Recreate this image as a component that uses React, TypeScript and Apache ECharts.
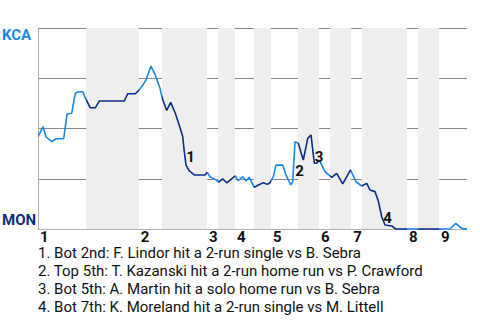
import React, { useEffect, useRef } from "react";
import * as echarts from "echarts";

// Game progress (0-100) and Kansas City win probability (%) at each play
const progress = [0, 1.17, 1.86, 3.19, 4.2, 5.99, 6.76, 7.86, 8.69, 9.49, 10.42, 11.19, 12.19, 13.36, 14.29, 20.12, 20.91, 22.68, 23.61, 24.41, 25.17, 26.34, 27.34, 28.44, 28.97, 29.99, 30.93, 32.0, 33.1, 33.73, 34.1, 34.5, 35.27, 36.43, 38.93, 39.46, 40.09, 41.26, 42.19, 43.05, 43.99, 45.99, 46.69, 47.72, 48.48, 49.25, 50.42, 51.35, 52.52, 53.45, 54.08, 54.85, 55.48, 57.04, 57.81, 58.9, 59.37, 59.91, 60.68, 61.84, 62.87, 63.64, 64.41, 64.97, 65.57, 66.9, 68.46, 69.63, 71.03, 72.84, 74.13, 75.45, 76.62, 77.39, 78.55, 79.32, 80.12, 80.89, 82.45, 83.38, 96.04, 97.37, 98.76, 100];
const kcaWinPct = [46, 50.9, 45.9, 43.4, 44.9, 44.9, 57.2, 57.6, 67.5, 68.3, 68.3, 64.5, 60.3, 60.3, 63.7, 63.7, 67.3, 67.3, 69.2, 71.6, 74.1, 81.1, 76.6, 70, 65, 59, 63, 57.6, 50.5, 46, 38.5, 31.8, 28.9, 26.9, 26.9, 28.2, 26, 24.7, 23.4, 24.9, 23, 26.4, 24, 26, 23.9, 25.7, 20.7, 21.9, 23, 22.2, 23, 26, 31.8, 31.8, 26.9, 21.9, 23.5, 43.4, 42.6, 34.3, 45.1, 46.8, 32.7, 32.7, 34.3, 28.5, 25.7, 27.7, 22.4, 29.4, 23.5, 21.4, 22.7, 19.4, 18.6, 14, 6.1, 2, 1.5, 0, 0, 2.8, 0.3, 0];

// Half-inning boundaries on the progress scale (top 1, bot 1, top 2, ...)
const halfInningBounds = [0, 11.2, 23.5, 28.9, 39.4, 42.0, 45.9, 50.3, 54.3, 60.6, 65.5, 68.1, 73.0, 75.5, 86.0, 88.6, 93.5, 100];
const inningLabels = ["1", "2", "3", "4", "5", "6", "7", "8", "9"];

// Key-event markers
const eventIds = ["1", "2", "3", "4"];
const eventProgress = [35.55, 60.96, 65.5, 81.47];
const eventPct = [35.8, 28.9, 35.8, 5.5];
const eventNotes = [
  "1. Bot 2nd: F. Lindor hit a 2-run single vs B. Sebra",
  "2. Top 5th: T. Kazanski hit a 2-run home run vs P. Crawford",
  "3. Bot 5th: A. Martin hit a solo home run vs B. Sebra",
  "4. Bot 7th: K. Moreland hit a 2-run single vs M. Littell",
];

const LIGHT = "#1a87e6";
const DARK = "#0b2f85";
const FONT = "Roboto";

export default function App() {
  const ref = useRef<HTMLDivElement>(null);
  useEffect(() => {
    if (!ref.current) return;
    document.body.style.margin = "0";
    const chart = echarts.init(ref.current, null, { renderer: "svg" });
    const inningStarts = halfInningBounds.filter((_, i) => i % 2 === 0 && i < halfInningBounds.length - 1);
    const pieces = [] as any[];
    const bands = [] as any[];
    for (let i = 0; i < halfInningBounds.length - 1; i++) {
      const bottom = i % 2 === 1;
      pieces.push({ gte: halfInningBounds[i], lt: i === halfInningBounds.length - 2 ? 1000 : halfInningBounds[i + 1], color: bottom ? DARK : LIGHT });
      if (bottom) bands.push([{ xAxis: halfInningBounds[i] }, { xAxis: halfInningBounds[i + 1] }]);
    }
    chart.setOption({
      animation: false,
      grid: { left: 38, right: 13, top: 28, bottom: 91 },
      xAxis: {
        type: "value",
        min: 0,
        max: 100,
        axisLine: { show: true, onZero: false, lineStyle: { color: "#b0b0b0", width: 1 } },
        axisTick: { show: false },
        splitLine: { show: false },
        axisLabel: {
          customValues: inningStarts,
          formatter: (v: number) => inningLabels[inningStarts.indexOf(v)] ?? "",
          align: "left",
          padding: [0, 0, 0, 2],
          margin: 1,
          lineHeight: 13,
          color: "#111111",
          fontFamily: FONT,
          fontWeight: "bold",
          fontSize: 15,
        },
      },
      yAxis: {
        type: "value",
        min: 0,
        max: 100,
        interval: 25,
        axisLine: { show: true, lineStyle: { color: "#b0b0b0", width: 1 } },
        axisTick: { show: false },
        axisLabel: { show: false },
        splitLine: { show: true, lineStyle: { color: "#888888", width: 1 } },
      },
      visualMap: {
        show: false,
        type: "piecewise",
        seriesIndex: 0,
        dimension: 0,
        pieces,
      },
      series: [
        {
          type: "line",
          data: progress.map((p, i) => [p, kcaWinPct[i]]),
          symbol: "none",
          clip: false,
          lineStyle: { width: 1.6 },
          z: 3,
          markArea: {
            silent: true,
            itemStyle: { color: "#eeeeee" },
            data: bands,
          },
        },
        {
          type: "custom",
          data: eventIds.map((id, i) => [eventProgress[i], eventPct[i], i]),
          z: 5,
          silent: true,
          renderItem: (_params: any, api: any) => {
            const pt = api.coord([api.value(0), api.value(1)]);
            const idx = api.value(2);
            return {
              type: "text",
              x: pt[0],
              y: pt[1],
              style: {
                text: eventIds[idx],
                fill: "#111111",
                font: `bold 15px ${FONT}`,
                align: "center",
                verticalAlign: "middle",
              },
            };
          },
        },
      ],
      graphic: [
        {
          type: "text",
          left: 2,
          top: 27,
          style: { text: "KCA", fill: LIGHT, font: `bold 15px ${FONT}` },
        },
        {
          type: "text",
          left: 2,
          top: 212,
          style: { text: "MON", fill: DARK, font: `bold 15px ${FONT}` },
        },
        {
          type: "text",
          left: 38,
          top: 244,
          style: { text: eventNotes.join("\n"), fill: "#111111", font: `15px ${FONT}`, lineHeight: 18 },
        },
      ],
    });
    return () => chart.dispose();
  }, []);
  return <div ref={ref} style={{ width: 480, height: 320 }} />;
}
